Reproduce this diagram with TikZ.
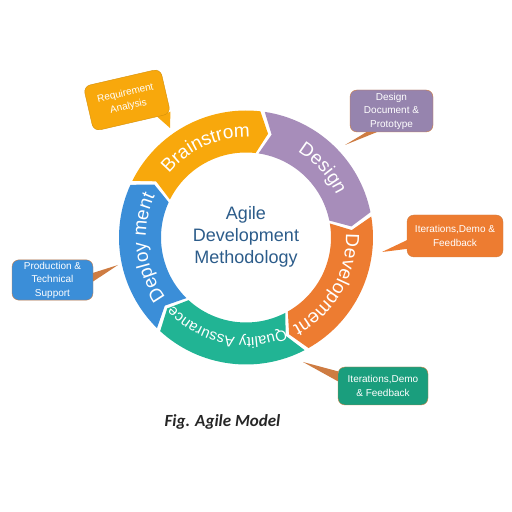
\documentclass[tikz,border=0pt]{standalone}
\usepackage{fontspec}
\setmainfont{Liberation Sans}
\newfontfamily\captionfont{Carlito}
\usetikzlibrary{decorations.text,backgrounds}
\definecolor{brainstorm}{RGB}{248,168,12}
\definecolor{design}{RGB}{167,141,186}
\definecolor{development}{RGB}{237,124,49}
\definecolor{quality}{RGB}{33,180,148}
\definecolor{deployment}{RGB}{59,142,216}
\definecolor{titleblue}{RGB}{44,92,138}
\definecolor{calloutline}{RGB}{206,124,66}
\definecolor{designnote}{RGB}{150,132,174}
\definecolor{qualitynote}{RGB}{26,158,125}
\tikzset{
    ring-label/.style = {decorate, decoration={text along path, text={|\fontsize{\labelsize}{\labelsize}\selectfont|#1}, text align=center, text color=white}},
    callout-box/.style = {draw=calloutline, thin, rectangle, rounded corners=7pt, text=white, align=center, font=\fontsize{10}{13.5}\selectfont, inner sep=2pt},
    centre-title/.style = {text=titleblue, align=center, font=\fontsize{18}{22}\selectfont},
    fig-caption/.style = {font=\captionfont\bfseries\itshape\fontsize{17}{17}\selectfont, text=black!85},
}

\begin{document}
\begin{tikzpicture}[x=1pt, y=1pt]
\useasboundingbox (0,0) rectangle (512,512);
% ring of arrows
\begin{scope}[shift={(246,274.5)}]
\foreach \col/\tp/\txt/\labelsize in {brainstorm/150/Brainstrom/19, design/78/Design/19, development/6/Development/19, quality/-66/Quality Assurance/15, deployment/-138/Deploy ment/19}{
    \pgfmathsetmacro\tailout{\tp+5.5-2}
    \pgfmathsetmacro\headout{\tp-72+5.5}
    \fill[\col] (\tailout:127) arc[start angle=\tailout, end angle=\headout, radius=127]
        -- (\tp-72:106) -- (\headout:85) arc[start angle=\headout, end angle=\tailout, radius=85]
        -- (\tp-2:106) -- cycle;
    \path[ring-label/.expanded=\txt] (\tp-36+40:100) arc[start angle=\tp-36+40, end angle=\tp-36-40, radius=100];
}
\end{scope}
\node[centre-title] (title) at (246,275) {Agile\\Development\\Methodology};

% callouts
\node[callout-box, fill=brainstorm, draw=brainstorm!85!black, rotate=13, minimum width=79pt, minimum height=46pt] (requirement) at (127,412) {Requirement\\Analysis};
\node[callout-box, fill=designnote, minimum width=83pt, minimum height=42pt] (design-note) at (391.5,401) {Design\\Document \&\\Prototype};
\node[callout-box, fill=development, minimum width=96pt, minimum height=42pt] (iteration-note) at (455,276) {Iterations,Demo \&\\Feedback};
\node[callout-box, fill=deployment, minimum width=81pt, minimum height=40pt] (support-note) at (52.5,232) {Production \&\\Technical\\Support};
\node[callout-box, fill=qualitynote, minimum width=90pt, minimum height=38pt] (feedback-note) at (383,126) {Iterations,Demo\\\& Feedback};
\coordinate (requirement-tip) at (170,384);
\coordinate (design-tip) at (345,367);
\coordinate (iteration-tip) at (382,260);
\coordinate (support-tip) at (118,247);
\coordinate (feedback-tip) at (303,150);
\begin{scope}[on background layer]
\fill[brainstorm] (requirement.-42) -- (requirement-tip) -- (requirement.-28) -- cycle;
\fill[calloutline] (design-note.-125) -- (design-tip) -- (design-note.-140) -- cycle;
\fill[development] (iteration-note.185) -- (iteration-tip) -- (iteration-note.195) -- cycle;
\fill[calloutline] (support-note.10) -- (support-tip) -- (support-note.-2) -- cycle;
\fill[calloutline] (feedback-note.162) -- (feedback-tip) -- (feedback-note.174) -- cycle;
\end{scope}

\node[fig-caption] (caption) at (222.5,90) {Fig. Agile Model};
\end{tikzpicture}
\end{document}
